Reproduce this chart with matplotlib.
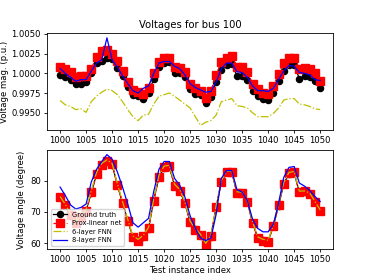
import numpy as np
import matplotlib
matplotlib.use("Agg")
import matplotlib.pyplot as plt

idx = list(range(1000, 1051))

# Top panel: voltage magnitude (p.u.)
vm_truth = [0.9998, 0.9995, 0.9992, 0.9986, 0.9987, 0.9989, 1.0000, 1.0013, 1.0016, 1.0020,
            1.0018, 1.0007, 0.9996, 0.9983, 0.9972, 0.9971, 0.9968, 0.9975, 0.9993, 1.0008,
            1.0013, 1.0014, 1.0001, 1.0000, 0.9995, 0.9980, 0.9974, 0.9972, 0.9962, 0.9970,
            0.9989, 1.0004, 1.0011, 1.0012, 0.9997, 0.9997, 0.9992, 0.9978, 0.9971, 0.9967,
            0.9966, 0.9975, 0.9990, 1.0003, 1.0011, 1.0011, 0.9993, 0.9997, 0.9995, 0.9990,
            0.9982]
vm_prox = [1.0008, 1.0006, 1.0002, 0.9995, 0.9996, 0.9997, 1.0006, 1.0021, 1.0028, 1.0029,
           1.0025, 1.0016, 1.0003, 0.9989, 0.9979, 0.9976, 0.9974, 0.9982, 1.0001, 1.0014,
           1.0020, 1.0020, 1.0008, 1.0007, 1.0002, 0.9987, 0.9981, 0.9978, 0.9969, 0.9978,
           0.9998, 1.0015, 1.0020, 1.0022, 1.0008, 1.0008, 1.0002, 0.9987, 0.9980, 0.9975,
           0.9974, 0.9984, 0.9999, 1.0013, 1.0020, 1.0020, 1.0006, 1.0007, 1.0005, 1.0000,
           0.9990]
vm_fnn6 = [0.99655, 0.9960, 0.9958, 0.9954, 0.9955, 0.99505, 0.9964, 0.9971, 0.9976, 0.9980,
           0.9978, 0.9973, 0.9964, 0.9954, 0.9945, 0.9940, 0.9947, 0.9948, 0.9961, 0.9971,
           0.9973, 0.9975, 0.9971, 0.9966, 0.9961, 0.9956, 0.9945, 0.9934, 0.9938, 0.9940,
           0.9947, 0.9964, 0.9966, 0.9968, 0.9959, 0.9958, 0.9956, 0.9950, 0.9945, 0.9945,
           0.9945, 0.9949, 0.9956, 0.9966, 0.9968, 0.9968, 0.9961, 0.9960, 0.9958, 0.9955,
           0.9954]
vm_fnn8 = [1.0006, 1.0000, 0.9995, 0.9990, 0.9992, 0.9992, 1.0003, 1.0013, 1.0017, 1.0045,
           1.0017, 1.0008, 0.9997, 0.9987, 0.9978, 0.9975, 0.9981, 0.9984, 1.0000, 1.0013,
           1.0015, 1.0015, 1.0009, 1.0006, 0.9998, 0.9987, 0.9982, 0.9979, 0.9976, 0.9977,
           0.9989, 1.0006, 1.0013, 1.0013, 1.0002, 1.0001, 0.9995, 0.9984, 0.9978, 0.9978,
           0.9977, 0.9981, 0.9992, 1.0003, 1.0010, 1.0009, 1.0001, 1.0000, 0.9998, 0.9992,
           0.9991]

# Bottom panel: voltage angle (degree)
va_truth = [74.6, 72.1, 69.1, 66.5, 68.3, 70.4, 76.1, 82.0, 85.1, 86.2,
            85.1, 78.7, 72.8, 67.3, 61.9, 60.9, 62.1, 64.6, 73.7, 81.1,
            84.1, 84.4, 78.5, 76.7, 72.8, 66.7, 64.4, 62.4, 59.6, 62.1,
            71.5, 79.5, 82.6, 82.7, 76.0, 76.0, 73.2, 66.5, 61.7, 60.9,
            60.6, 65.4, 72.0, 78.9, 82.2, 82.5, 76.2, 76.4, 75.7, 73.1,
            70.2]
va_prox = [74.7, 72.2, 69.0, 66.4, 68.4, 70.3, 76.2, 82.1, 85.0, 86.3,
           85.2, 78.6, 72.9, 67.2, 61.8, 60.8, 62.2, 64.7, 73.6, 81.2,
           84.2, 84.5, 78.4, 76.8, 72.9, 66.6, 64.3, 62.5, 59.5, 62.2,
           71.6, 79.6, 82.7, 82.8, 76.1, 76.1, 73.3, 66.4, 61.6, 60.8,
           60.5, 65.5, 72.1, 79.0, 82.3, 82.6, 76.3, 76.5, 75.8, 73.0,
           70.3]
va_fnn6 = [74.9, 72.4, 69.3, 66.9, 68.7, 70.8, 76.8, 82.6, 85.5, 86.6,
           85.5, 79.0, 73.3, 67.6, 62.3, 61.2, 62.5, 65.0, 74.2, 81.7,
           84.6, 84.9, 78.8, 77.1, 73.2, 67.0, 64.6, 62.8, 59.9, 62.4,
           72.0, 80.0, 83.0, 83.1, 76.4, 76.3, 73.6, 66.8, 62.0, 61.2,
           60.9, 65.8, 72.5, 79.4, 82.6, 82.9, 76.6, 76.7, 76.0, 73.3,
           70.6]
va_fnn8 = [77.9, 75.2, 72.2, 70.9, 71.4, 72.5, 79.6, 83.6, 86.1, 88.3,
           86.8, 82.8, 77.9, 72.5, 66.5, 65.1, 66.5, 67.9, 76.5, 83.6,
           86.1, 86.1, 80.7, 78.5, 74.7, 68.7, 64.7, 61.6, 60.8, 61.6,
           69.2, 80.7, 83.2, 83.2, 77.1, 76.3, 73.6, 67.6, 64.7, 63.6,
           63.6, 66.0, 72.7, 81.0, 84.2, 84.5, 79.2, 78.2, 76.8, 74.9,
           73.3]

xticks = list(range(1000, 1051, 5))

fig = plt.figure(figsize=(3.71, 2.79), dpi=100)
ax1 = fig.add_axes([0.127, 0.535, 0.771, 0.345])
ax2 = fig.add_axes([0.127, 0.107, 0.771, 0.355])

fs = 6.1
ms_c = 4.4
ms_s = 5.2

for ax, tr, px, f6, f8 in [(ax1, vm_truth, vm_prox, vm_fnn6, vm_fnn8),
                           (ax2, va_truth, va_prox, va_fnn6, va_fnn8)]:
    ax.plot(idx, tr, 'ko-', markersize=ms_c, linewidth=0.9, label='Ground truth')
    ax.plot(idx, px, 'rs--', markersize=ms_s, linewidth=0.9, label='Prox-linear net')
    ax.plot(idx, f6, 'y-.', linewidth=0.9, label='6-layer FNN')
    ax.plot(idx, f8, 'b-', linewidth=0.9, label='8-layer FNN')
    ax.set_xticks(xticks)
    ax.tick_params(labelsize=fs, length=2.5, width=0.6, pad=2)
    for s in ax.spines.values():
        s.set_linewidth(0.6)

ax1.set_yticks([0.9950, 0.9975, 1.0000, 1.0025, 1.0050])
ax1.set_yticklabels(['0.9950', '0.9975', '1.0000', '1.0025', '1.0050'])
ax1.set_title('Voltages for bus 100', fontsize=7.2, pad=4)
ax1.set_ylabel('Voltage mag. (p.u.)', fontsize=6.1, labelpad=1.5)

ax2.set_yticks([60, 70, 80])
ax2.set_ylabel('Voltage angle (degree)', fontsize=6.1, labelpad=3)
ax2.set_xlabel('Test instance index', fontsize=6.1, labelpad=1)
ax2.legend(loc='lower left', fontsize=4.9, borderpad=0.4, labelspacing=0.35,
           handlelength=2.0, frameon=True, framealpha=0.8)

fig.savefig('out.png', dpi=100)
